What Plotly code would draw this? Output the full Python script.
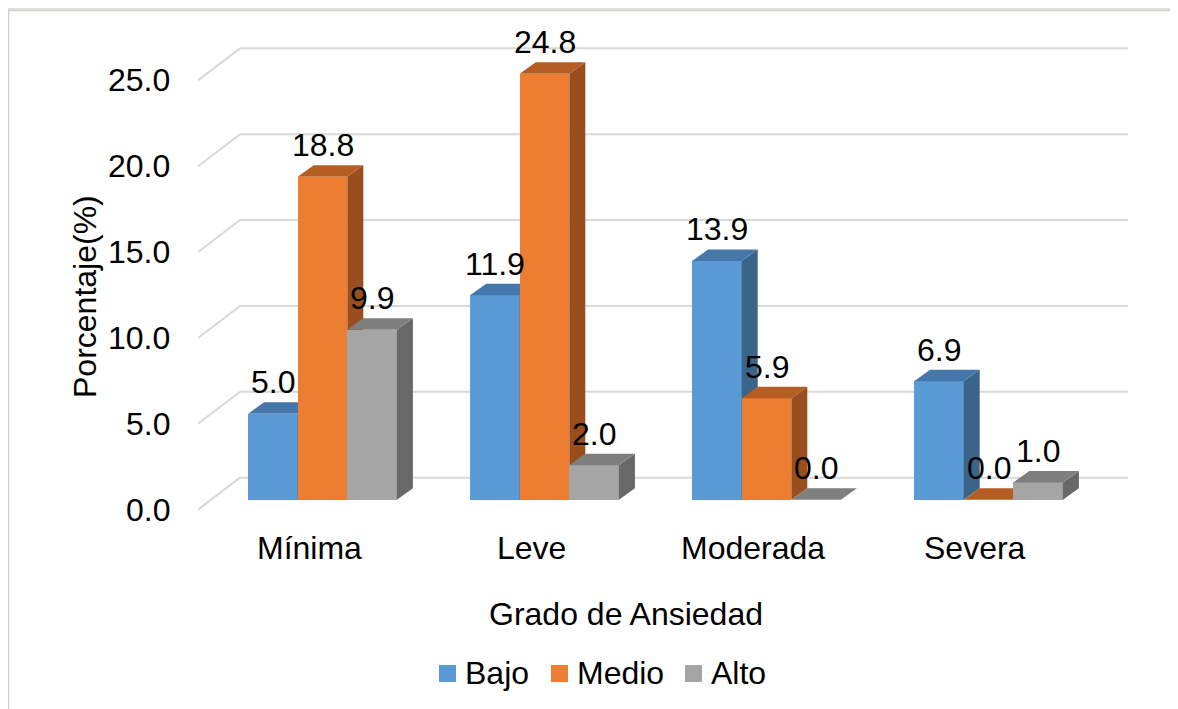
import plotly.graph_objects as go

# ---------------- data ----------------
categories = ["Mínima", "Leve", "Moderada", "Severa"]
series_names = ["Bajo", "Medio", "Alto"]
bajo = [5.0, 11.9, 13.9, 6.9]
medio = [18.8, 24.8, 5.9, 0.0]
alto = [9.9, 2.0, 0.0, 1.0]
y_ticks = [0.0, 5.0, 10.0, 15.0, 20.0, 25.0]
x_title = "Grado de Ansiedad"
y_title = "Porcentaje(%)"

# ---------------- style ----------------
front_colors = ["#5B9BD5", "#ED7D31", "#A5A5A5"]
top_colors = ["#4677AB", "#B55D22", "#7F7F7F"]
side_colors = ["#3B6489", "#9A4E1E", "#686868"]
FONT = "Arial, 'Liberation Sans', sans-serif"
FS = 32

OFF = 8  # page body margin offset
W, H = 1178 - OFF, 709 - OFF
ML, MR, MT, MB = 156 - OFF, 23, 36 - OFF, 175
XR = [-0.75, 3.75]
YR = [-2, 27]
px_x = (W - ML - MR) / (XR[1] - XR[0])
px_y = (H - MT - MB) / (YR[1] - YR[0])

# 3D depth offsets (pixels -> data units)
BAR_DX, BAR_DY = 16 / px_x, 11.5 / px_y
FRONT_DX, FRONT_DY = -13.5 / px_x, -10 / px_y
BACK_DX, BACK_DY = 28.5 / px_x, 22 / px_y
BW = 49.6 / px_x


def paper_x(p):
    return (p - OFF - ML) / (W - ML - MR)


def paper_y(p):
    return (H - MB - (p - OFF)) / (H - MT - MB)


fig = go.Figure()
all_series = [bajo, medio, alto]
shapes = []
annotations = []

for k, vals in enumerate(all_series):
    ax = "" if k == 0 else str(k + 1)
    xs = [i + (k - 1) * BW for i in range(len(categories))]
    fig.add_trace(go.Bar(x=xs, y=vals, width=BW, marker=dict(color=front_colors[k], line=dict(width=0)),
                         name=series_names[k], showlegend=False, xaxis="x" + ax, yaxis="y" + ax,
                         hoverinfo="skip"))
    tx, ty, sx, sy = [], [], [], []
    for xc, v in zip(xs, vals):
        x0, x1 = xc - BW / 2, xc + BW / 2
        tx += [x0, x1, x1 + BAR_DX, x0 + BAR_DX, x0, None]
        ty += [v, v, v + BAR_DY, v + BAR_DY, v, None]
        sx += [x1, x1, x1 + BAR_DX, x1 + BAR_DX, x1, None]
        sy += [0, v, v + BAR_DY, BAR_DY, 0, None]
        annotations.append(dict(x=xc, y=v + BAR_DY, xref="x", yref="y", text=f"{v:.1f}",
                                showarrow=False, yanchor="bottom", yshift=0,
                                font=dict(size=FS, color="#000000", family=FONT)))
    fig.add_trace(go.Scatter(x=sx, y=sy, fill="toself", fillcolor=side_colors[k], mode="lines",
                             line=dict(width=0), showlegend=False, hoverinfo="skip",
                             xaxis="x" + ax, yaxis="y" + ax))
    fig.add_trace(go.Scatter(x=tx, y=ty, fill="toself", fillcolor=top_colors[k], mode="lines",
                             line=dict(width=0), showlegend=False, hoverinfo="skip",
                             xaxis="x" + ax, yaxis="y" + ax))

# gridlines (back wall + side wall)
n = len(categories)
for v in y_ticks:
    shapes.append(dict(type="line", xref="x", yref="y", layer="below",
                       x0=-0.5 + BACK_DX, x1=n - 0.5 + BACK_DX, y0=v + BACK_DY, y1=v + BACK_DY,
                       line=dict(color="#D9D9D9", width=2)))
    shapes.append(dict(type="line", xref="x", yref="y", layer="below",
                       x0=-0.5 + FRONT_DX, x1=-0.5 + BACK_DX, y0=v + FRONT_DY, y1=v + BACK_DY,
                       line=dict(color="#D9D9D9", width=2)))
    annotations.append(dict(x=-0.5 + FRONT_DX, y=v + FRONT_DY, xref="x", yref="y", text=f"{v:.1f}",
                            showarrow=False, xanchor="right", yanchor="middle", xshift=-26,
                            font=dict(size=FS, color="#000000", family=FONT)))

# category labels
for i, c in enumerate(categories):
    annotations.append(dict(x=i + FRONT_DX, y=paper_y(548), xref="x", yref="paper", text=c,
                            showarrow=False, yanchor="middle",
                            font=dict(size=FS, color="#000000", family=FONT)))

# axis titles
annotations.append(dict(x=paper_x(626), y=paper_y(614), xref="paper", yref="paper", text=x_title,
                        showarrow=False, yanchor="middle", font=dict(size=FS, color="#000000", family=FONT)))
annotations.append(dict(x=paper_x(85), y=paper_y(297), xref="paper", yref="paper", text=y_title,
                        showarrow=False, textangle=-90, xanchor="center", yanchor="middle",
                        font=dict(size=FS, color="#000000", family=FONT)))

# legend (manual)
leg_sq = [439, 551, 685]
for k, name in enumerate(series_names):
    x0 = leg_sq[k]
    shapes.append(dict(type="rect", xref="paper", yref="paper",
                       x0=paper_x(x0), x1=paper_x(x0 + 17), y0=paper_y(665), y1=paper_y(682),
                       fillcolor=front_colors[k], line=dict(width=0)))
    annotations.append(dict(x=paper_x(x0 + 24), y=paper_y(673), xref="paper", yref="paper", text=name,
                            showarrow=False, xanchor="left", yanchor="middle",
                            font=dict(size=FS, color="#000000", family=FONT)))

# top watermark band and chart border
shapes.append(dict(type="rect", xref="paper", yref="paper", x0=paper_x(OFF), x1=paper_x(1178),
                   y0=paper_y(OFF), y1=paper_y(10), fillcolor="#E2E2D8", line=dict(width=0), layer="below"))
shapes.append(dict(type="line", xref="paper", yref="paper", x0=paper_x(8), x1=paper_x(1178),
                   y0=paper_y(10.5), y1=paper_y(10.5), line=dict(color="#D0D0D0", width=1.5)))
shapes.append(dict(type="line", xref="paper", yref="paper", x0=paper_x(8.5), x1=paper_x(8.5),
                   y0=paper_y(10.5), y1=paper_y(709), line=dict(color="#D0D0D0", width=1.5)))

axis_common = dict(range=XR, visible=False, fixedrange=True)
yaxis_common = dict(range=YR, visible=False, fixedrange=True)
fig.update_layout(
    width=W, height=H,
    margin=dict(l=ML, r=MR, t=MT, b=MB, pad=0),
    paper_bgcolor="white", plot_bgcolor="rgba(0,0,0,0)",
    barmode="overlay", bargap=0,
    xaxis=dict(**axis_common),
    yaxis=dict(**yaxis_common),
    xaxis2=dict(**axis_common, overlaying="x", anchor="y2"),
    yaxis2=dict(**yaxis_common, overlaying="y", anchor="x2"),
    xaxis3=dict(**axis_common, overlaying="x", anchor="y3"),
    yaxis3=dict(**yaxis_common, overlaying="y", anchor="x3"),
    shapes=shapes, annotations=annotations,
    showlegend=False,
    font=dict(family=FONT, size=FS, color="#000000"),
)

fig.write_html("out.html")
